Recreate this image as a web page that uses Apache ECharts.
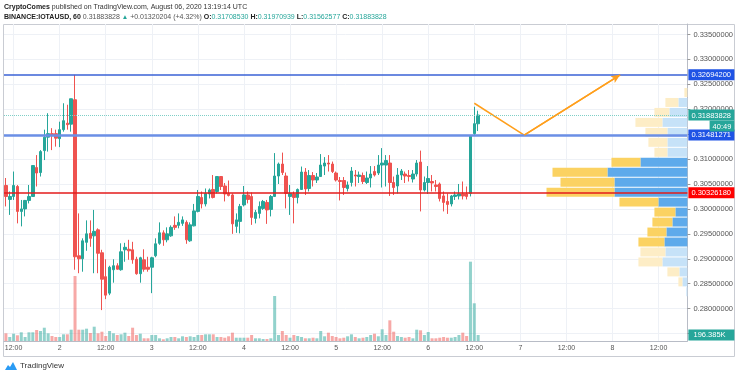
<!DOCTYPE html>
<html>
<head>
<meta charset="utf-8">
<script src="https://cdn.jsdelivr.net/npm/echarts@6/dist/echarts.min.js"></script>
<style>
  html, body { margin: 0; padding: 0; background: #fff; }
  #chart { width: 736px; height: 376px; }
</style>
</head>
<body>
<div id="chart"></div>
<script>
// IOTAUSD hourly candles, Aug 1 10:00 -> Aug 6 13:00 UTC
const opens = [
  0.3047, 0.3019, 0.3025, 0.3045, 0.2995, 0.3000, 0.3017, 0.3025, 0.3083, 0.3073,
  0.3117, 0.3144, 0.3151, 0.3151, 0.3141, 0.3159, 0.3172, 0.3170, 0.3219, 0.2906,
  0.2900, 0.2933, 0.2951, 0.2946, 0.2958, 0.2912, 0.2864, 0.2831, 0.2878, 0.2886,
  0.2878, 0.2918, 0.2919, 0.2918, 0.2899, 0.2870, 0.2898, 0.2883, 0.2883, 0.2906,
  0.2931, 0.2952, 0.2938, 0.2946, 0.2967, 0.2967, 0.2971, 0.2973, 0.2936, 0.2966,
  0.2995, 0.3023, 0.3010, 0.3030, 0.3039, 0.3035, 0.3065, 0.3046, 0.3031, 0.3028,
  0.2965, 0.2975, 0.3008, 0.3028, 0.3025, 0.2981, 0.2991, 0.3001, 0.3013, 0.2999,
  0.3025, 0.3066, 0.3090, 0.3066, 0.3025, 0.3030, 0.3023, 0.3039, 0.3074, 0.3041,
  0.3067, 0.3058, 0.3065, 0.3086, 0.3092, 0.3090, 0.3072, 0.3057, 0.3057, 0.3041,
  0.3053, 0.3068, 0.3065, 0.3067, 0.3053, 0.3062, 0.3075, 0.3072, 0.3088, 0.3088,
  0.3092, 0.3053, 0.3046, 0.3068, 0.3070, 0.3067, 0.3060, 0.3070, 0.3094, 0.3038,
  0.3053, 0.3055, 0.3048, 0.3050, 0.3026, 0.3015, 0.3010, 0.3025, 0.3026, 0.3030,
  0.3030, 0.3031, 0.3151, 0.31708530
];
const closes = [
  0.3025, 0.3025, 0.3047, 0.2995, 0.3000, 0.3017, 0.3025, 0.3087, 0.3072, 0.3115,
  0.3144, 0.3151, 0.3147, 0.3142, 0.3159, 0.3177, 0.3169, 0.3221, 0.2904, 0.2900,
  0.2936, 0.2950, 0.2941, 0.2955, 0.2911, 0.2859, 0.2827, 0.2883, 0.2886, 0.2879,
  0.2914, 0.2923, 0.2916, 0.2898, 0.2870, 0.2902, 0.2879, 0.2879, 0.2902, 0.2930,
  0.2952, 0.2938, 0.2950, 0.2963, 0.2963, 0.2973, 0.2978, 0.2938, 0.2968, 0.2996,
  0.3025, 0.3010, 0.3031, 0.3038, 0.3023, 0.3065, 0.3045, 0.3030, 0.3027, 0.2970,
  0.2978, 0.3005, 0.3028, 0.3019, 0.2983, 0.2993, 0.3005, 0.3015, 0.2998, 0.3025,
  0.3066, 0.3090, 0.3073, 0.3031, 0.3031, 0.3023, 0.3039, 0.3074, 0.3040, 0.3067,
  0.3058, 0.3064, 0.3088, 0.3092, 0.3090, 0.3075, 0.3058, 0.3055, 0.3043, 0.3048,
  0.3076, 0.3066, 0.3068, 0.3055, 0.3062, 0.3070, 0.3068, 0.3088, 0.3092, 0.3097,
  0.3053, 0.3043, 0.3068, 0.3076, 0.3066, 0.3065, 0.3070, 0.3092, 0.3038, 0.3053,
  0.3061, 0.3052, 0.3045, 0.3021, 0.3013, 0.3009, 0.3026, 0.3028, 0.3030, 0.3026,
  0.3025, 0.3147, 0.3171, 0.31883828
];
const lows = [
  0.3005, 0.2988, 0.3018, 0.2971, 0.2965, 0.2985, 0.3011, 0.3025, 0.3045, 0.3065,
  0.3098, 0.3115, 0.3118, 0.3125, 0.3124, 0.3155, 0.3159, 0.3155, 0.2878, 0.2871,
  0.2874, 0.2916, 0.2924, 0.2871, 0.2871, 0.2797, 0.2819, 0.2827, 0.2852, 0.2878,
  0.2876, 0.2894, 0.2898, 0.2890, 0.2868, 0.2852, 0.2874, 0.2874, 0.2831, 0.2903,
  0.2928, 0.2926, 0.2933, 0.2944, 0.2958, 0.2961, 0.2966, 0.2930, 0.2934, 0.2965,
  0.2993, 0.3001, 0.3005, 0.3021, 0.3021, 0.3031, 0.3038, 0.3015, 0.3025, 0.2950,
  0.2952, 0.2951, 0.3005, 0.3011, 0.2968, 0.2971, 0.2981, 0.2998, 0.2970, 0.2985,
  0.3025, 0.3050, 0.3068, 0.3001, 0.2988, 0.2971, 0.3011, 0.3038, 0.3028, 0.3035,
  0.3045, 0.3052, 0.3064, 0.3068, 0.3075, 0.3072, 0.3055, 0.3017, 0.3028, 0.3035,
  0.3045, 0.3045, 0.3052, 0.3050, 0.3050, 0.3043, 0.3065, 0.3068, 0.3043, 0.3045,
  0.3026, 0.3028, 0.3031, 0.3058, 0.3052, 0.3055, 0.3053, 0.3065, 0.2995, 0.3035,
  0.3030, 0.3035, 0.3035, 0.3015, 0.2995, 0.2990, 0.3005, 0.3018, 0.3019, 0.3019,
  0.3019, 0.3025, 0.3147, 0.31562577
];
const highs = [
  0.3062, 0.3035, 0.3075, 0.3048, 0.3018, 0.3018, 0.3048, 0.3088, 0.3108, 0.3118,
  0.3159, 0.3192, 0.3162, 0.3159, 0.3175, 0.3212, 0.3209, 0.3221, 0.3269, 0.2991,
  0.2941, 0.2977, 0.2977, 0.2998, 0.2961, 0.2918, 0.2899, 0.2886, 0.2899, 0.2891,
  0.2931, 0.2932, 0.2938, 0.2934, 0.2904, 0.2904, 0.2919, 0.2904, 0.2904, 0.2941,
  0.2973, 0.2957, 0.2963, 0.2967, 0.2985, 0.2991, 0.2985, 0.2977, 0.2973, 0.3010,
  0.3038, 0.3035, 0.3041, 0.3041, 0.3068, 0.3066, 0.3066, 0.3052, 0.3057, 0.3031,
  0.2991, 0.3010, 0.3046, 0.3035, 0.3033, 0.2998, 0.3015, 0.3018, 0.3018, 0.3028,
  0.3112, 0.3093, 0.3113, 0.3073, 0.3048, 0.3035, 0.3041, 0.3085, 0.3082, 0.3078,
  0.3074, 0.3072, 0.3110, 0.3104, 0.3108, 0.3095, 0.3075, 0.3064, 0.3064, 0.3055,
  0.3084, 0.3078, 0.3075, 0.3073, 0.3075, 0.3086, 0.3086, 0.3108, 0.3122, 0.3108,
  0.3108, 0.3065, 0.3082, 0.3080, 0.3075, 0.3078, 0.3078, 0.3098, 0.3117, 0.3065,
  0.3086, 0.3068, 0.3058, 0.3053, 0.3035, 0.3031, 0.3028, 0.3035, 0.3050, 0.3055,
  0.3045, 0.3147, 0.3205, 0.31970939
];
// volume, thousands
const volumes = [
  252, 131, 239, 187, 285, 131, 285, 285, 360, 327,
  435, 252, 164, 131, 131, 219, 219, 370, 2127, 370,
  370, 403, 262, 468, 252, 304, 164, 327, 252, 196,
  219, 272, 164, 435, 196, 239, 88, 88, 196, 196,
  88, 56, 88, 131, 131, 88, 154, 131, 154, 131,
  196, 196, 219, 219, 219, 131, 131, 108, 154, 272,
  108, 108, 108, 108, 196, 88, 88, 65, 65, 88,
  1473, 196, 327, 196, 108, 196, 164, 131, 88, 88,
  108, 88, 327, 154, 272, 164, 131, 88, 108, 154,
  219, 131, 88, 108, 131, 196, 239, 154, 383, 196,
  677, 304, 164, 131, 108, 131, 88, 370, 350, 196,
  295, 88, 88, 108, 131, 108, 108, 131, 196, 272,
  164, 2596, 1234, 196.385
];

// volume profile rows (price bottom of each row, up / down volume in M)
const vpRowLow = [
  0.32226, 0.32026, 0.31826, 0.31626, 0.31426, 0.31226, 0.31026, 0.30826, 0.30626, 0.30426,
  0.30226, 0.30026, 0.29826, 0.29626, 0.29426, 0.29226, 0.29026, 0.28826, 0.28626, 0.28426, 0.28226
];
const vpRowStep = 0.002;
const vpUp = [0, 0.9, 1.8, 2.5, 2.0, 2.0, 2.0, 4.7, 8.0, 7.3, 7.3, 2.9, 1.2, 1.5, 2.1, 2.3, 2.2, 2.5, 0.8, 0.5, 0.1];
const vpDown = [0.3, 1.3, 1.5, 2.7, 2.2, 1.9, 1.3, 2.9, 5.5, 5.4, 6.8, 3.9, 2.1, 2.0, 1.9, 2.6, 2.5, 2.4, 1.2, 0.4, 0];
const valueAreaLow = 0.2922;
const valueAreaHigh = 0.3103;

// drawn levels
const resistanceLevel = 0.326942;
const supportLevel = 0.31481271;
const pocLevel = 0.3032618;
const countdown = '40:49';

// forecast path: category index, price
const forecastIdx = [122, 135, 160];
const forecastPrice = [0.3212, 0.3148, 0.3269];

const tickValues = [0.275, 0.28, 0.285, 0.29, 0.295, 0.30, 0.305, 0.31, 0.315, 0.32, 0.325, 0.33, 0.335];

// hourly slots from Aug 1 10:00 up to Aug 8 19:00
const startHour = 10;
const slots = 178;
const categories = [];
for (let i = 0; i < slots; i++) {
  const h = startHour + i;
  categories.push((1 + Math.floor(h / 24)) + ' ' + String(h % 24).padStart(2, '0') + ':00');
}

const up = '#26a69a';
const down = '#ef5350';
const font = 'Liberation Sans, Arial, sans-serif';

const isMajor = (v) => v.endsWith(' 00:00') || v.endsWith(' 12:00');

const candles = opens.map((o, i) => [o, closes[i], lows[i], highs[i]]);
const volData = volumes.map((v, i) => ({
  value: v,
  itemStyle: { color: closes[i] >= opens[i] ? 'rgba(38,166,154,0.5)' : 'rgba(239,83,80,0.5)' }
}));
const vpData = vpRowLow.map((lo, i) => [lo, lo + vpRowStep, vpUp[i], vpDown[i]]);
const forecast = forecastIdx.map((x, i) => [x, forecastPrice[i]]);

const last = candles.length - 1;
const fmt = (v) => v.toFixed(8);

const chart = echarts.init(document.getElementById('chart'));

const priceLabel = (bg) => ({
  show: true,
  position: 'end',
  distance: 1,
  color: '#fff',
  fontSize: 7.5,
  width: 40,
  padding: [2, 3, 1, 3],
  backgroundColor: bg,
  formatter: (p) => fmt(p.value)
});

const option = {
  animation: false,
  textStyle: { fontFamily: font },
  title: {
    left: 4,
    top: 2,
    padding: 0,
    text: '{b|CryptoComes} published on TradingView.com, August 06, 2020 13:19:14 UTC\n' +
      '{b|BINANCE:IOTAUSD, 60} {g|' + fmt(closes[last]) + '} {t|▲} {g|+0.01320204 (+4.32%)} ' +
      '{b|O:}{v|' + fmt(opens[last]) + '} {b|H:}{v|' + fmt(highs[last]) + '} ' +
      '{b|L:}{v|' + fmt(lows[last]) + '} {b|C:}{v|' + fmt(closes[last]) + '}',
    textStyle: {
      fontSize: 7,
      fontWeight: 'normal',
      color: '#333',
      lineHeight: 10,
      rich: {
        b: { fontSize: 7, fontWeight: 'bold', color: '#222', lineHeight: 10 },
        g: { fontSize: 7, color: '#555', lineHeight: 10 },
        t: { fontSize: 6.5, color: up, lineHeight: 10 },
        v: { fontSize: 7, color: up, lineHeight: 10 }
      }
    }
  },
  grid: { left: 4, right: 48, top: 24, bottom: 35 },
  xAxis: [
    {
      type: 'category',
      data: categories,
      boundaryGap: true,
      axisLine: { lineStyle: { color: '#b8bcc6' } },
      axisTick: { show: false },
      axisLabel: {
        interval: (idx, v) => isMajor(v),
        formatter: (v) => (v.endsWith(' 00:00') ? v.split(' ')[0] : '12:00'),
        fontSize: 7,
        color: '#555',
        margin: 4
      },
      splitLine: {
        show: true,
        interval: (idx, v) => isMajor(v),
        alignWithLabel: true,
        lineStyle: { color: '#eef1f6', width: 1 }
      }
    },
    {
      type: 'value',
      inverse: true,
      min: 0,
      max: 68.4,
      show: false
    }
  ],
  yAxis: [
    {
      type: 'value',
      position: 'right',
      min: 0.2735,
      max: 0.3371,
      scale: true,
      axisLine: { show: true, lineStyle: { color: '#b8bcc6' } },
      axisTick: { show: true, customValues: tickValues, length: 3, lineStyle: { color: '#999' } },
      axisLabel: { customValues: tickValues, formatter: fmt, fontSize: 7.5, color: '#555', margin: 6 },
      splitLine: { show: true, lineStyle: { color: '#eef1f6' } }
    },
    {
      type: 'value',
      min: 0,
      max: 10375,
      show: false
    }
  ],
  series: [
    {
      name: 'profile',
      type: 'custom',
      xAxisIndex: 1,
      yAxisIndex: 0,
      z: 1,
      silent: true,
      data: vpData,
      encode: { x: [2, 3], y: [0, 1] },
      renderItem: (params, api) => {
        const lo = api.value(0);
        const hi = api.value(1);
        const u = api.value(2);
        const d = api.value(3);
        const inVA = lo >= valueAreaLow && hi <= valueAreaHigh + 0.0005;
        const pRight = api.coord([0, hi]);
        const pUp = api.coord([u, lo]);
        const pAll = api.coord([u + d, lo]);
        const yTop = pRight[1];
        const h = pUp[1] - pRight[1] - 1;
        return {
          type: 'group',
          children: [
            {
              type: 'rect',
              shape: { x: pUp[0], y: yTop, width: pRight[0] - pUp[0], height: h },
              style: { fill: inVA ? '#5eaaeb' : '#c6e2f8' }
            },
            {
              type: 'rect',
              shape: { x: pAll[0], y: yTop, width: pUp[0] - pAll[0], height: h },
              style: { fill: inVA ? '#fbd262' : '#fdedc6' }
            }
          ]
        };
      }
    },
    {
      name: 'volume',
      type: 'bar',
      xAxisIndex: 0,
      yAxisIndex: 1,
      barWidth: 3,
      clip: false,
      data: volData,
      markLine: {
        silent: true,
        symbol: 'none',
        precision: 3,
        lineStyle: { color: 'transparent' },
        data: [{ yAxis: volumes[last] }],
        label: {
          show: true,
          position: 'end',
          distance: 1,
          color: '#fff',
          fontSize: 7.5,
          width: 40,
          padding: [2, 3, 1, 3],
          backgroundColor: up,
          formatter: (p) => ' ' + p.value.toFixed(3) + 'K'
        }
      }
    },
    {
      name: 'IOTAUSD',
      type: 'candlestick',
      xAxisIndex: 0,
      yAxisIndex: 0,
      barWidth: 3,
      clip: false,
      z: 3,
      data: candles,
      itemStyle: {
        color: up,
        color0: down,
        borderColor: up,
        borderColor0: down,
        borderWidth: 1
      },
      markLine: {
        silent: true,
        symbol: 'none',
        precision: 8,
        data: [
          {
            yAxis: resistanceLevel,
            lineStyle: { color: '#3a62d6', width: 1.5, type: 'solid' },
            label: priceLabel('#1e53e5')
          },
          {
            yAxis: supportLevel,
            lineStyle: { color: '#6b8fe6', width: 2.5, type: 'solid' },
            label: priceLabel('#1e53e5')
          },
          {
            yAxis: pocLevel,
            lineStyle: { color: '#e31b1b', width: 1.5, type: 'solid' },
            label: priceLabel('#ff0000')
          },
          {
            yAxis: closes[last],
            lineStyle: { color: '#7fcfc6', width: 1, type: 'dotted' },
            label: {
              show: true,
              position: 'end',
              distance: 1,
              offset: [0, 5.5],
              formatter: (p) => '{p|' + fmt(p.value) + '}\n{c|' + countdown + '}',
              rich: {
                p: { color: '#fff', fontSize: 7.5, width: 40, backgroundColor: up, padding: [2, 3, 1, 3], lineHeight: 11 },
                c: { color: '#fff', fontSize: 7.5, backgroundColor: up, padding: [2, 3, 1, 3], align: 'right', lineHeight: 11 }
              }
            }
          }
        ]
      }
    },
    {
      name: 'forecast',
      type: 'line',
      xAxisIndex: 0,
      yAxisIndex: 0,
      z: 4,
      data: forecast,
      showSymbol: false,
      silent: true,
      lineStyle: { color: '#ff9f1c', width: 1.5 },
      markLine: {
        silent: true,
        symbol: ['none', 'arrow'],
        symbolSize: [6, 9],
        lineStyle: { color: '#ff9f1c', width: 1.5, type: 'solid' },
        label: { show: false },
        data: [[
          { coord: [forecastIdx[1], forecastPrice[1]] },
          { coord: [forecastIdx[2], forecastPrice[2]] }
        ]]
      }
    }
  ],
  graphic: [
    {
      type: 'rect',
      silent: true,
      shape: { x: 3.5, y: 24.5, width: 731, height: 332 },
      style: { fill: 'none', stroke: '#c9ccd3', lineWidth: 1 }
    },
    {
      type: 'polygon',
      silent: true,
      shape: { points: [[5, 370], [8, 365], [10, 367], [13, 362], [17, 370]] },
      style: { fill: '#2a9bf4' }
    },
    {
      type: 'text',
      silent: true,
      left: 20,
      top: 362,
      style: { text: 'TradingView', fontSize: 8, fill: '#333', fontFamily: font }
    }
  ]
};

chart.setOption(option);
window.addEventListener('resize', () => chart.resize());
</script>
</body>
</html>
